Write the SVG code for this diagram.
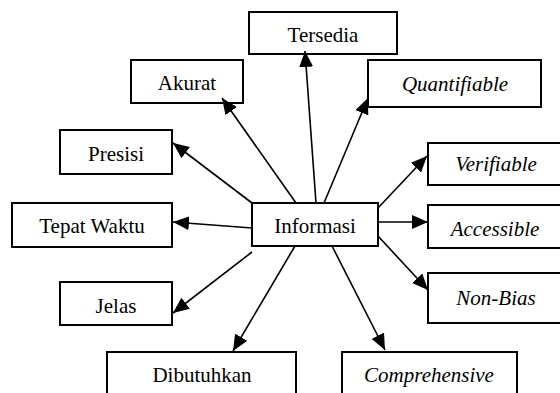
<svg xmlns="http://www.w3.org/2000/svg" width="560" height="393" viewBox="0 0 560 393" font-family="Liberation Serif, Times New Roman, DejaVu Serif, serif">
<style>
.box{fill:#fff;stroke:#000;stroke-width:2}
.t{font-size:21px;fill:#000;text-anchor:middle}
.i{font-style:italic}
.c{stroke:#000;stroke-width:1.6;fill:none;marker-end:url(#ah)}
</style>
<defs>
<marker id="ah" markerUnits="userSpaceOnUse" markerWidth="17" markerHeight="14" refX="16" refY="7" orient="auto">
<path d="M0,0 L16,7 L0,14 z" fill="#000"/>
</marker>
</defs>
<rect width="560" height="393" fill="#fff"/>
<g id="informasi"><rect class="box" x="252" y="203" width="126" height="43"/><text class="t" x="315" y="233" style="font-family:'Liberation Serif',serif">Informasi</text></g>
<g id="tersedia"><rect class="box" x="249" y="12" width="148" height="42"/><text class="t" x="323" y="42">Tersedia</text></g>
<g id="akurat"><rect class="box" x="131" y="60" width="112" height="43"/><text class="t" x="187" y="90">Akurat</text></g>
<g id="quantifiable"><rect class="box" x="368" y="60" width="173" height="47"/><text class="t i" x="455" y="91">Quantifiable</text></g>
<g id="presisi"><rect class="box" x="60" y="130" width="112" height="44"/><text class="t" x="116" y="161">Presisi</text></g>
<g id="verifiable"><rect class="box" x="428" y="143" width="140" height="42"/><text class="t i" x="496" y="171">Verifiable</text></g>
<g id="tepat-waktu"><rect class="box" x="12" y="203" width="160" height="44"/><text class="t" x="92" y="233">Tepat Waktu</text></g>
<g id="accessible"><rect class="box" x="428" y="205" width="140" height="43"/><text class="t i" x="495" y="236">Accessible</text></g>
<g id="non-bias"><rect class="box" x="428" y="273" width="140" height="50"/><text class="t i" x="496" y="305">Non-Bias</text></g>
<g id="jelas"><rect class="box" x="60" y="282" width="112" height="43"/><text class="t" x="116" y="313">Jelas</text></g>
<g id="dibutuhkan"><rect class="box" x="107" y="352" width="189" height="60"/><text class="t" x="202" y="382">Dibutuhkan</text></g>
<g id="comprehensive"><rect class="box" x="342" y="352" width="175" height="60"/><text class="t i" x="429" y="382">Comprehensive</text></g>
<g id="connectors">
<line class="c" x1="316" y1="203" x2="305" y2="51"/>
<line class="c" x1="296" y1="203" x2="222" y2="98"/>
<line class="c" x1="324" y1="203" x2="368" y2="98"/>
<line class="c" x1="378" y1="208" x2="427" y2="156"/>
<line class="c" x1="378" y1="222" x2="428" y2="222"/>
<line class="c" x1="378" y1="236" x2="428" y2="290"/>
<line class="c" x1="332" y1="246" x2="385" y2="350"/>
<line class="c" x1="295" y1="246" x2="233" y2="351"/>
<line class="c" x1="252" y1="252" x2="173" y2="313"/>
<line class="c" x1="252" y1="228" x2="173" y2="222"/>
<line class="c" x1="252" y1="203" x2="173" y2="143"/>
</g>
</svg>
